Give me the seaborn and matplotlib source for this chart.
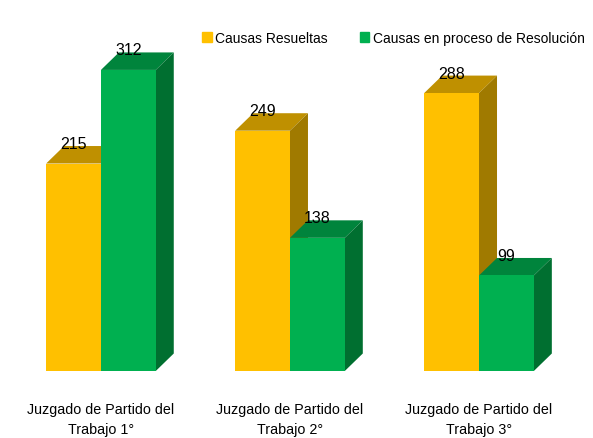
import matplotlib
matplotlib.use("Agg")
import matplotlib.pyplot as plt
from matplotlib.patches import Polygon, Patch
import pandas as pd
import seaborn as sns

juzgados = ["Juzgado de Partido del\nTrabajo 1°",
            "Juzgado de Partido del\nTrabajo 2°",
            "Juzgado de Partido del\nTrabajo 3°"]
series = ["Causas Resueltas", "Causas en proceso de Resolución"]
resueltas = [215, 249, 288]
en_proceso = [312, 138, 99]

front = ["#FFC000", "#00B050"]
top = ["#BF9000", "#00843C"]
side = ["#A07A00", "#006F30"]

df = pd.DataFrame({
    "juzgado": juzgados * 2,
    "serie": [series[0]] * 3 + [series[1]] * 3,
    "valor": resueltas + en_proceso,
})

sns.set_style("white")
plt.rcParams["font.family"] = ["Liberation Sans", "DejaVu Sans"]
plt.rcParams["text.color"] = "black"
plt.rcParams["xtick.color"] = "black"

fig = plt.figure(figsize=(5.93, 4.39), dpi=100)
ax = fig.add_axes([0, 67 / 439, 1, 372 / 439])
sns.barplot(data=df, x="juzgado", y="valor", hue="serie", order=juzgados,
            hue_order=series, palette=front, width=0.58, linewidth=0,
            saturation=1, legend=False, ax=ax)
ax.set_xlim(-0.534, 2.603)
ax.set_ylim(0, 385.5)

# depth of the 3d look, in pixels -> data units
dx = 18 * (2.603 + 0.534) / 593
dy = 17.5 * 385.5 / 372

for i, bars in enumerate(ax.containers):
    for bar, val in zip(bars, [resueltas, en_proceso][i]):
        x0 = bar.get_x()
        x1 = x0 + bar.get_width()
        h = bar.get_height()
        bar.set_zorder(2 + 2 * i)
        ax.add_patch(Polygon([(x0, h), (x1, h), (x1 + dx, h + dy), (x0 + dx, h + dy)],
                             closed=True, fc=top[i], lw=0, zorder=1.5 + 2 * i))
        ax.add_patch(Polygon([(x1, 0), (x1 + dx, dy), (x1 + dx, h + dy), (x1, h)],
                             closed=True, fc=side[i], lw=0, zorder=1.5 + 2 * i))
        ax.text(x0 + bar.get_width() / 2, h + dy - 2, str(val), ha="center",
                va="baseline", fontsize=11.5, color="black", zorder=6)

sns.despine(ax=ax, left=True, bottom=True, top=True, right=True)
ax.set_yticks([])
ax.set_xlabel("")
ax.set_ylabel("")
ax.tick_params(axis="x", length=0, pad=22, labelsize=10.3, labelcolor="black")
for lbl in ax.get_xticklabels():
    lbl.set_linespacing(1.55)

handles = [Patch(color=front[0], label=series[0]), Patch(color=front[1], label=series[1])]
ax.legend(handles=handles, loc="center right", bbox_to_anchor=(1.0, 0.895),
          ncol=2, frameon=False, fontsize=10, handlelength=0.7, handleheight=0.7,
          handletextpad=0.25, columnspacing=2.3, borderaxespad=0.2)

fig.savefig("out.png", dpi=100)
